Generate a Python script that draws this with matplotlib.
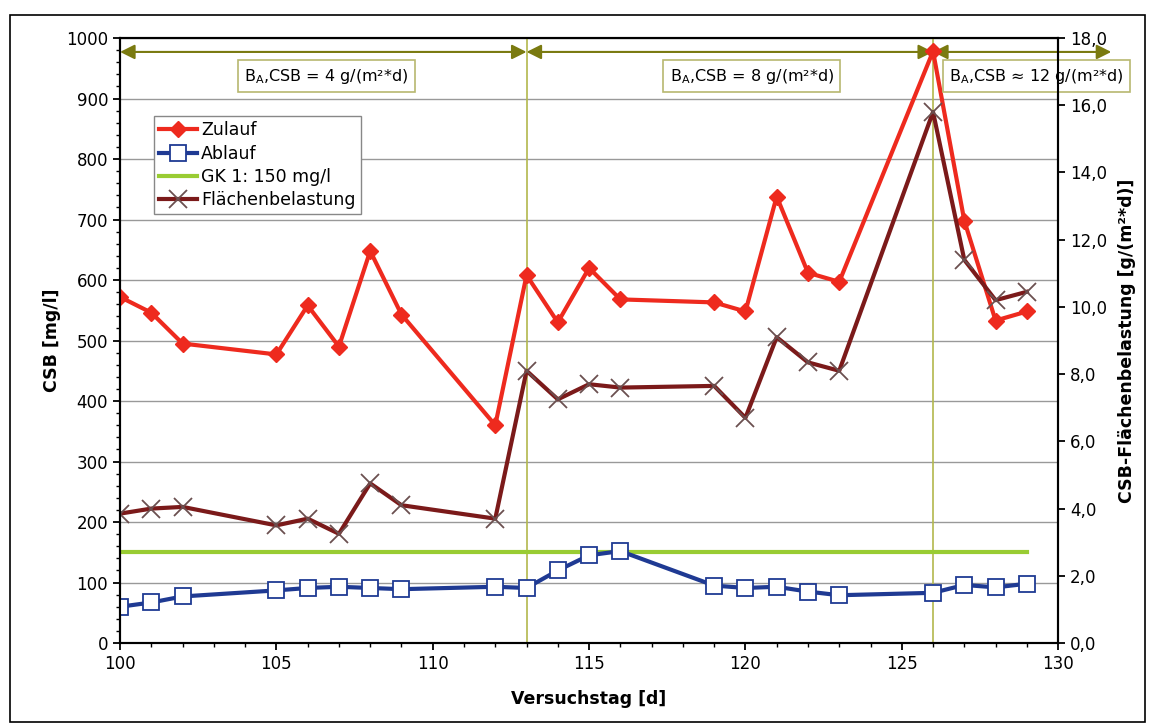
import matplotlib.pyplot as plt
from matplotlib.ticker import MultipleLocator, FuncFormatter
from matplotlib.patches import Rectangle

tage = [100, 101, 102, 105, 106, 107, 108, 109, 112, 113, 114, 115, 116,
        119, 120, 121, 122, 123, 126, 127, 128, 129]
zulauf = [572, 546, 495, 477, 558, 490, 648, 543, 360, 608, 530, 620, 568,
          563, 548, 738, 612, 597, 978, 698, 533, 548]
ablauf = [60, 67, 77, 87, 91, 93, 91, 89, 93, 91, 120, 145, 152,
          95, 91, 93, 85, 79, 83, 96, 92, 98]
flaeche = [3.85, 4.0, 4.05, 3.5, 3.7, 3.25, 4.75, 4.1, 3.7, 8.1, 7.25, 7.7, 7.6,
           7.65, 6.7, 9.1, 8.35, 8.1, 15.8, 11.4, 10.2, 10.45]
gk1 = 150
phasen = [(100, 113), (113, 126), (126, 131.7)]
phasen_text = ["B$_\\mathregular{A}$,CSB = 4 g/(m²*d)",
               "B$_\\mathregular{A}$,CSB = 8 g/(m²*d)",
               "B$_\\mathregular{A}$,CSB ≈ 12 g/(m²*d)"]
text_x = [106.6, 120.2, 129.3]

plt.rcParams['font.family'] = ['DejaVu Sans']
fig = plt.figure(figsize=(11.51, 7.27), dpi=100)
ax = fig.add_axes([0.1043, 0.1155, 0.815, 0.8322])
ax2 = ax.twinx()

ax.set_xlim(100, 130)
ax.set_ylim(0, 1000)
ax2.set_ylim(0, 18)

ax.grid(axis='y', color='#999999', linewidth=1)
ax.set_axisbelow(True)

ax.plot([100, 129], [gk1, gk1], color='#99cc33', linewidth=3, label='GK 1: 150 mg/l', zorder=2)
ax.plot(tage, zulauf, color='#ee2a1e', linewidth=3, marker='D', markersize=8,
        label='Zulauf', zorder=4)
ax.plot(tage, ablauf, color='#1f3a93', linewidth=3, marker='s', markersize=12,
        markerfacecolor='white', markeredgecolor='#1f3a93', markeredgewidth=1.3,
        label='Ablauf', zorder=3)
ln, = ax2.plot(tage, flaeche, color='#7b1a1a', linewidth=3, marker='x', markersize=13,
               markeredgecolor='#6b5050', markeredgewidth=1.3, label='Flächenbelastung')

for x in [113, 126]:
    ax.axvline(x, color='#b3b84d', linewidth=1.2, zorder=1)

for x0, x1 in phasen:
    ax.annotate('', xy=(x0, 977), xytext=(x1, 977), annotation_clip=False,
                arrowprops=dict(arrowstyle='<|-|>', color='#7a7a10', lw=1.5,
                                mutation_scale=22, shrinkA=0, shrinkB=0))
for xm, t in zip(text_x, phasen_text):
    ax.text(xm, 937, t, ha='center', va='center', fontsize=11.5,
            bbox=dict(boxstyle='square,pad=0.4', facecolor='white', edgecolor='#b8b870', lw=1.2),
            clip_on=False, zorder=6)

ax.xaxis.set_major_locator(MultipleLocator(5))
ax.xaxis.set_minor_locator(MultipleLocator(1))
ax.yaxis.set_major_locator(MultipleLocator(100))
ax.yaxis.set_minor_locator(MultipleLocator(20))
ax2.yaxis.set_major_locator(MultipleLocator(2))
ax2.yaxis.set_major_formatter(FuncFormatter(lambda v, p: f"{v:.1f}".replace('.', ',')))

ax.tick_params(labelsize=12, length=5, width=1.3)
ax.tick_params(which='minor', length=3, width=1)
ax2.tick_params(labelsize=12, length=5, width=1.3)

ax.set_xlabel('Versuchstag [d]', fontsize=12.5, fontweight='bold', labelpad=12)
ax.set_ylabel('CSB [mg/l]', fontsize=12.5, fontweight='bold')
ax2.set_ylabel('CSB-Flächenbelastung [g/(m²*d)]', fontsize=12.5, fontweight='bold', labelpad=8)

for a in (ax, ax2):
    for s in a.spines.values():
        s.set_linewidth(1.5)

h1, l1 = ax.get_legend_handles_labels()
order = [1, 2, 0]
handles = [h1[i] for i in order] + [ln]
labels = [l1[i] for i in order] + ['Flächenbelastung']
leg = ax.legend(handles, labels, loc='upper left', bbox_to_anchor=(0.027, 0.885),
                fontsize=12.5, fancybox=False, edgecolor='#888888', framealpha=1,
                handlelength=2.2, handletextpad=0.2, labelspacing=0.3, borderpad=0.3)
leg.set_zorder(7)

fig.patches.append(Rectangle((10 / 1151, 0.007), 1 - 16 / 1151, 1 - 15 / 727 - 0.007,
                             transform=fig.transFigure, fill=False,
                             edgecolor='black', linewidth=1.2))

fig.savefig('out.png', dpi=100)
